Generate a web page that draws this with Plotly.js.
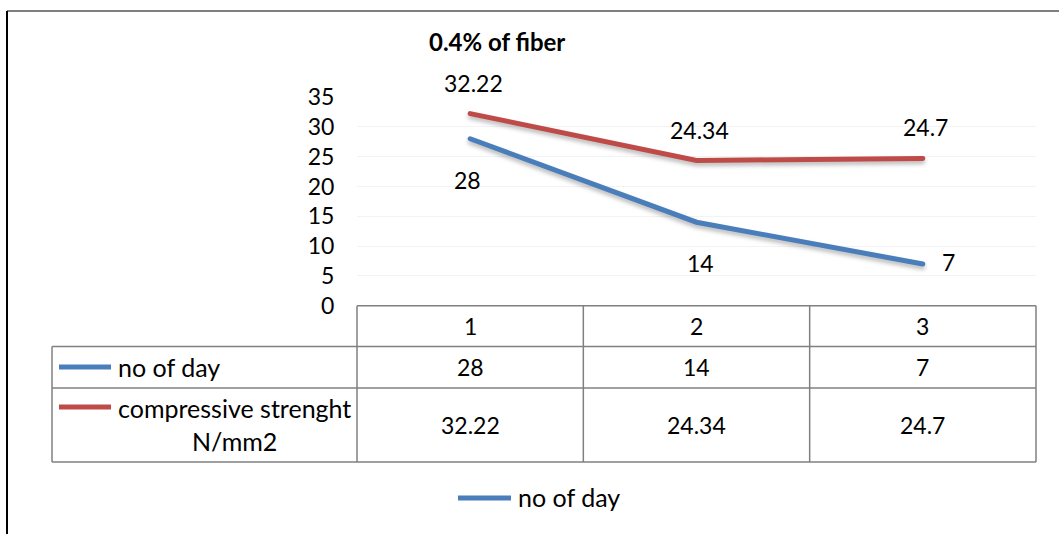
<!DOCTYPE html>
<html>
<head>
<meta charset="utf-8">
<script src="https://cdn.plot.ly/plotly-3.0.1.min.js"></script>
<style>
html,body{margin:0;padding:0;background:#fff;}
#chart{width:1059px;height:534px;}
.scatterlayer .js-line{stroke-linecap:round;filter:drop-shadow(0px 3px 2px rgba(0,0,0,0.28));}
</style>
</head>
<body>
<div id="chart"></div>
<script>
// ---- data ----
var categories = ["1", "2", "3"];
var seriesNames = ["no of day", "compressive strenght<br>N/mm2"];
var noOfDay = [28, 14, 7];
var compressive = [32.22, 24.34, 24.7];
var yTicks = [0, 5, 10, 15, 20, 25, 30, 35];
var titleText = "0.4% of fiber";

// ---- layout helpers (pixels -> paper) ----
var W = 1059, H = 534;
function px(x){ return x / W; }
function py(y){ return 1 - y / H; }

var FONT = "Lato, 'Open Sans', sans-serif";
var FS = 23;      // digits
var FT = 25;      // words
var BLUE = "#4a7ebb", RED = "#be4b48", GRID = "#808080";

var xL = 357, xR = 1036, yTop = 97, yBot = 305.7;
var tLeft = 52, r1Top = 346.5, r2Top = 388, tBot = 462;
var colW = (xR - xL) / categories.length;

var traces = [
  {x: categories, y: noOfDay, type: "scatter", mode: "lines", name: seriesNames[0],
   line: {color: BLUE, width: 5}, hoverinfo: "skip"},
  {x: categories, y: compressive, type: "scatter", mode: "lines", name: seriesNames[1],
   line: {color: RED, width: 5}, hoverinfo: "skip"}
];

var shapes = [];
function hline(y, x0, x1){ shapes.push({type:"line", xref:"paper", yref:"paper", x0:px(x0), x1:px(x1), y0:py(y), y1:py(y), line:{color:GRID, width:1.5}}); }
function vline(x, y0, y1){ shapes.push({type:"line", xref:"paper", yref:"paper", x0:px(x), x1:px(x), y0:py(y0), y1:py(y1), line:{color:GRID, width:1.5}}); }
hline(yBot, xL, xR);
hline(r1Top, tLeft, xR);
hline(r2Top, tLeft, xR);
hline(tBot, tLeft, xR);
vline(tLeft, r1Top, tBot);
for (var i = 0; i <= categories.length; i++) vline(xL + i * colW, yBot, tBot);
// outer frame (left + top)
shapes.push({type:"line", xref:"paper", yref:"paper", x0:px(7), x1:px(7), y0:py(11), y1:0, line:{color:"#000", width:2}});
shapes.push({type:"line", xref:"paper", yref:"paper", x0:px(7), x1:1, y0:py(11), y1:py(11), line:{color:"#000", width:1.2}});
// legend keys in the table
shapes.push({type:"line", xref:"paper", yref:"paper", x0:px(59), x1:px(111), y0:py(367), y1:py(367), line:{color:BLUE, width:5}});
shapes.push({type:"line", xref:"paper", yref:"paper", x0:px(59), x1:px(111), y0:py(407), y1:py(407), line:{color:RED, width:5}});
// bottom legend key
shapes.push({type:"line", xref:"paper", yref:"paper", x0:px(458), x1:px(511), y0:py(498), y1:py(498), line:{color:BLUE, width:5}});

var ann = [];
function txt(o, size){ o.showarrow = false; o.font = {family: FONT, size: size || FS, color: "#000"}; ann.push(o); }

// title
txt({text: "<b>" + titleText + "</b>", xref:"paper", yref:"paper", x:px(497), y:py(42), xanchor:"center", yanchor:"middle"}, 24);

// data labels + table cells (category index positions)
categories.forEach(function(c, i){
  txt({text: String(compressive[i]), x: i, y: compressive[i], xref:"x", yref:"y", xanchor:"center", yanchor:"middle", yshift: 31, xshift: 3});
  var last = (i === categories.length - 1);
  txt({text: String(noOfDay[i]), x: i, y: noOfDay[i], xref:"x", yref:"y", xanchor:"center", yanchor:"middle",
       yshift: last ? 2 : -41, xshift: last ? 26 : (i === 0 ? -3 : 4)});
  txt({text: c, x: i, xref:"x", yref:"paper", y: py(326), xanchor:"center", yanchor:"middle"});
  txt({text: String(noOfDay[i]), x: i, xref:"x", yref:"paper", y: py(367), xanchor:"center", yanchor:"middle"});
  txt({text: String(compressive[i]), x: i, xref:"x", yref:"paper", y: py(425), xanchor:"center", yanchor:"middle"});
});
// row headers
txt({text: seriesNames[0], xref:"paper", yref:"paper", x: px(116), y: py(367), xanchor:"left", yanchor:"middle", align:"left"}, FT);
txt({text: seriesNames[1], xref:"paper", yref:"paper", x: px(116), y: py(424), xanchor:"left", yanchor:"middle", align:"center"}, FT);
// bottom legend text
txt({text: seriesNames[0], xref:"paper", yref:"paper", x: px(516), y: py(497), xanchor:"left", yanchor:"middle", align:"left"}, FT);

var layout = {
  width: W, height: H,
  margin: {l:0, r:0, t:0, b:0},
  paper_bgcolor: "#fff", plot_bgcolor: "#fff",
  showlegend: false,
  font: {family: FONT, size: FS, color: "#000"},
  xaxis: {domain: [px(xL), px(xR)], type: "category", range: [-0.5, categories.length - 0.5],
          showticklabels: false, showgrid: false, zeroline: false, showline: false, ticks: "", fixedrange: true},
  yaxis: {domain: [py(yBot), py(yTop)], range: [0, 35], tickvals: yTicks, ticktext: yTicks.map(String),
          showgrid: true, gridcolor: "#f3f3f3", gridwidth: 1, zeroline: false, showline: false,
          ticks: "outside", ticklen: 17, tickcolor: "rgba(0,0,0,0)",
          tickfont: {family: FONT, size: FS, color: "#000"}, fixedrange: true},
  shapes: shapes,
  annotations: ann
};

Plotly.newPlot("chart", traces, layout, {staticPlot: true, displayModeBar: false});
</script>
</body>
</html>
